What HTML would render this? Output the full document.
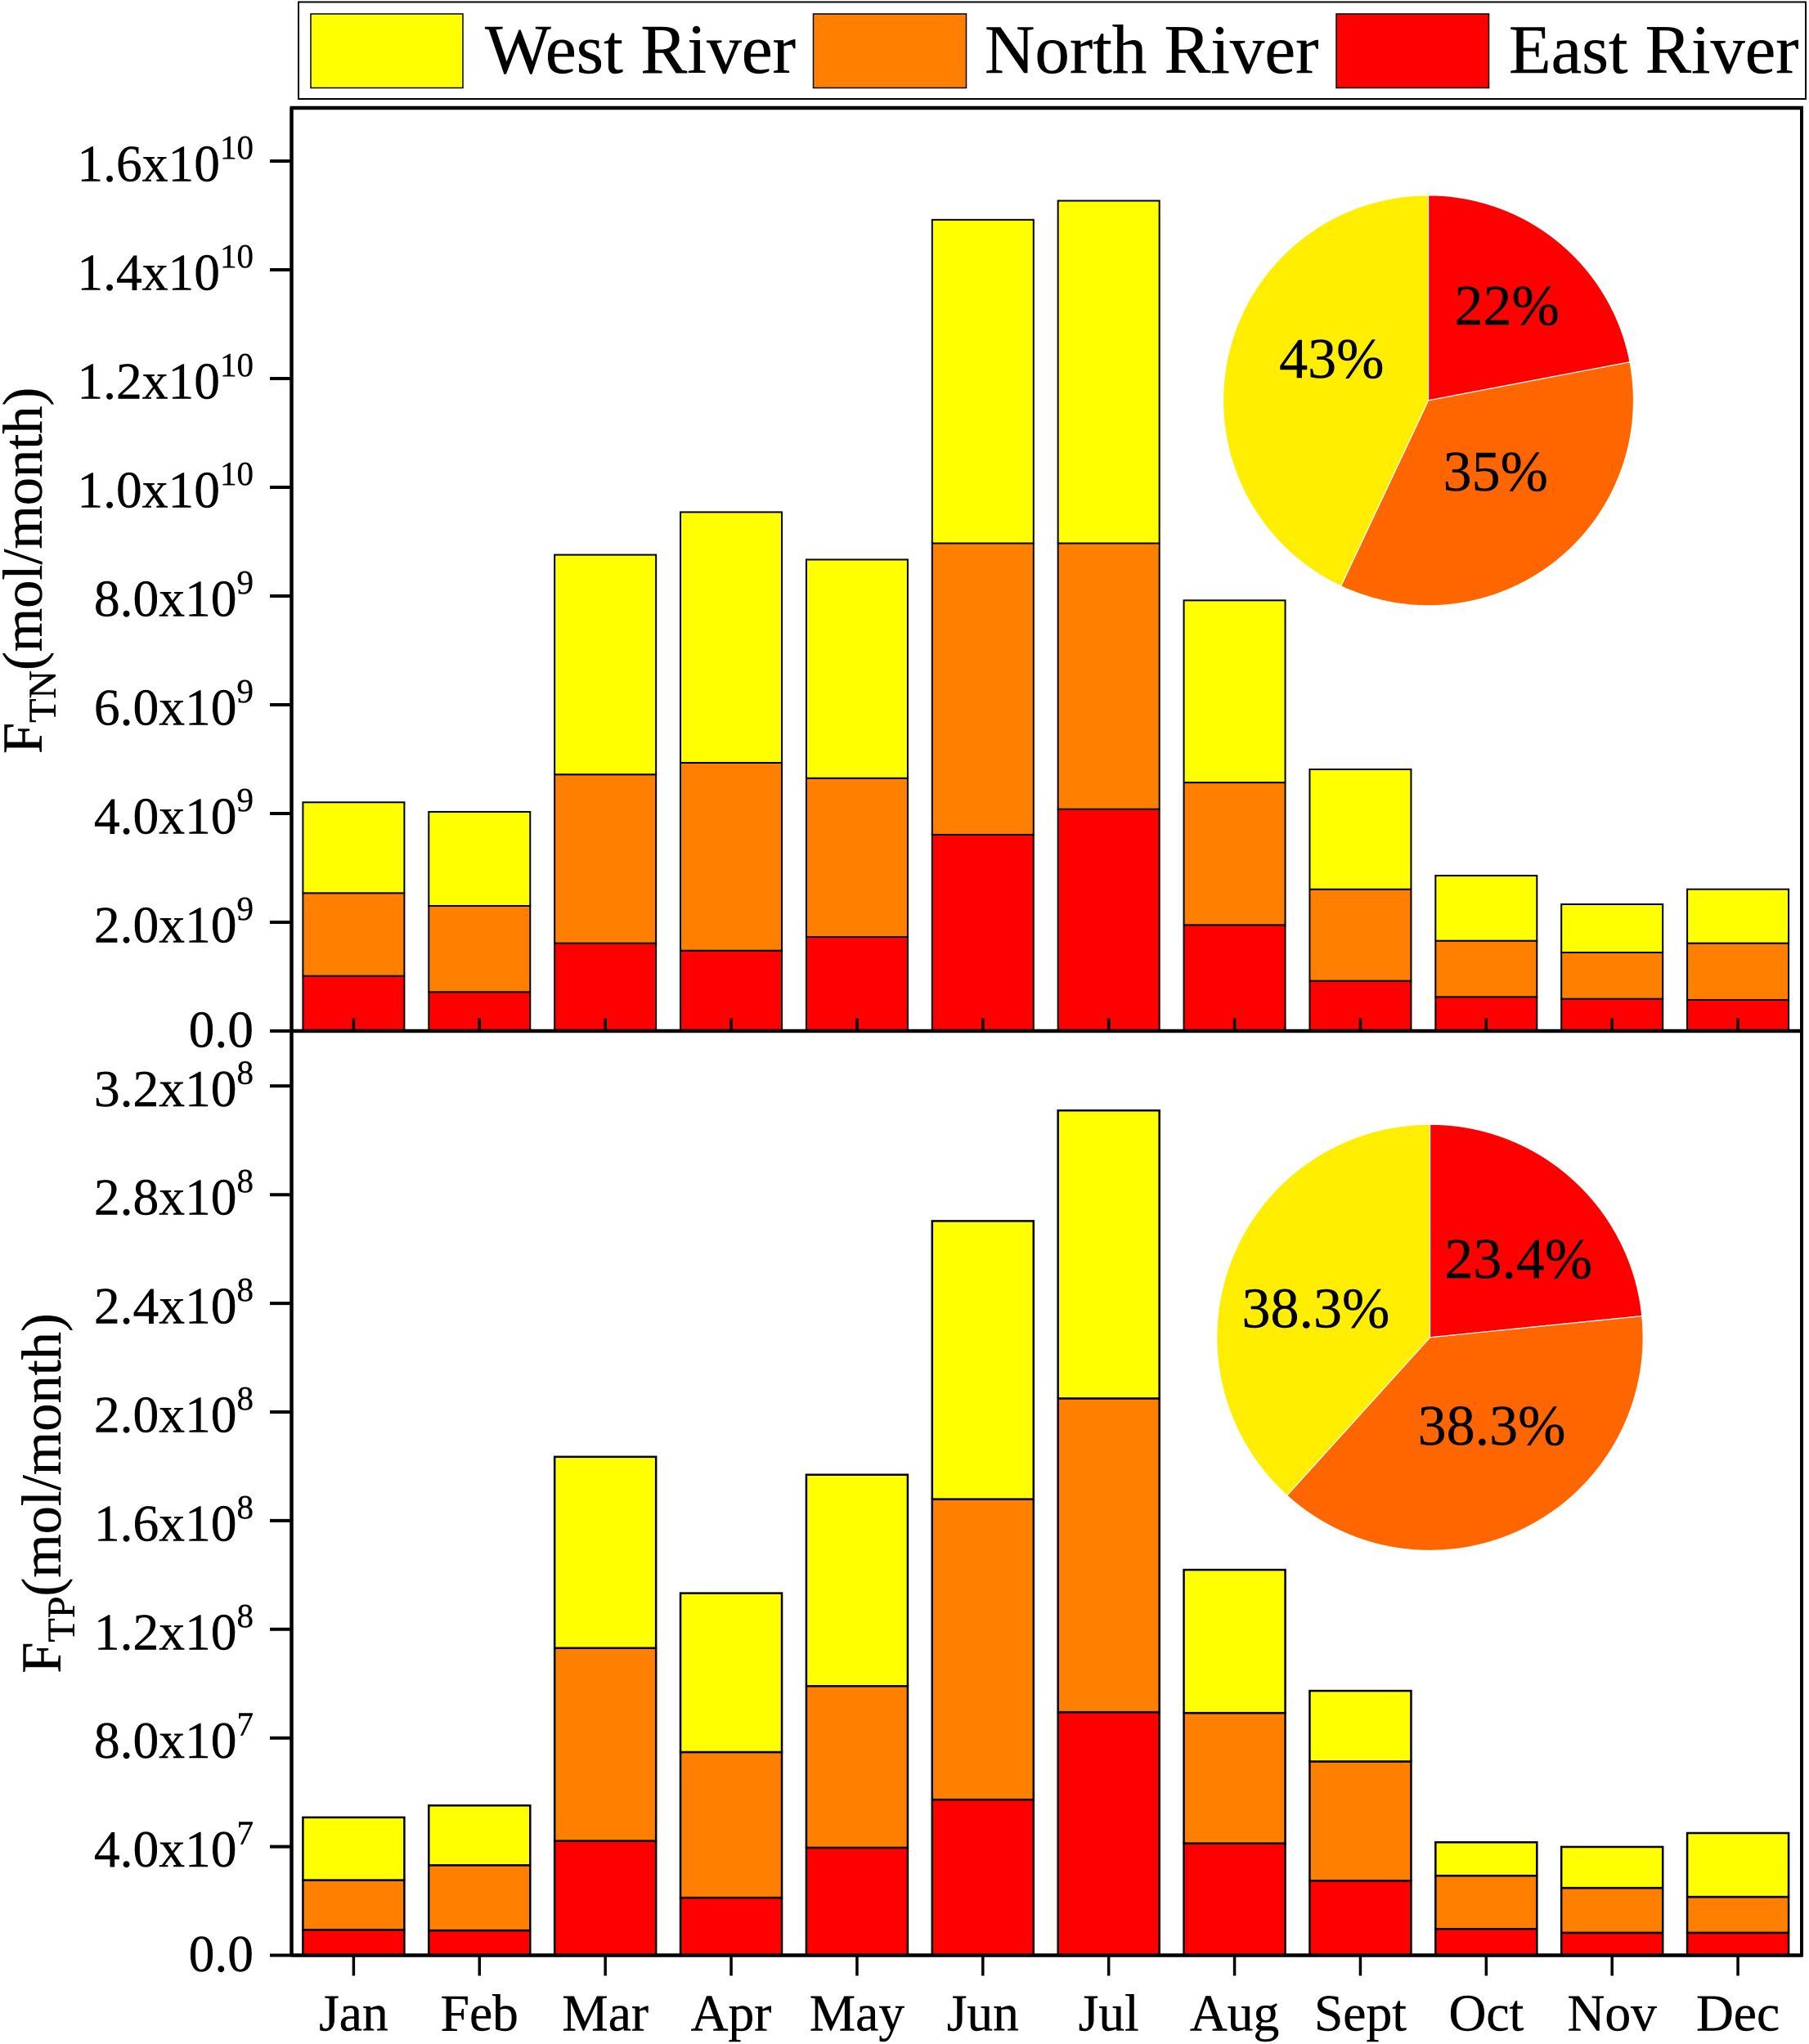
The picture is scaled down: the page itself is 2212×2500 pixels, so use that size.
<!DOCTYPE html>
<html lang="en">
<head>
<meta charset="utf-8">
<title>Monthly TN and TP fluxes by river</title>
<style>
html,body{margin:0;padding:0;background:#fff;}
svg{display:block;}
text{font-family:"Liberation Serif",serif;fill:#000;stroke:#000;stroke-width:0.4px;}
</style>
</head>
<body>
<svg id="chart" xmlns="http://www.w3.org/2000/svg" width="2212" height="2500" viewBox="0 0 2212 2500">
  <rect x="0" y="0" width="2212" height="2500" fill="#ffffff"/>
  <g>
    <rect x="365" y="2.5" width="1843" height="118.5" fill="#fff" stroke="#000" stroke-width="2"/>
    <rect x="380" y="17" width="186" height="90.5" fill="#ffff00" stroke="#000" stroke-width="1.5"/>
    <text x="593" y="89" font-size="85.5">West River</text>
    <rect x="994.5" y="17" width="187" height="90.5" fill="#ff8000" stroke="#000" stroke-width="1.5"/>
    <text x="1204" y="89" font-size="85">North River</text>
    <rect x="1634" y="17" width="186.5" height="90.5" fill="#ff0000" stroke="#000" stroke-width="1.5"/>
    <text x="1845" y="89" font-size="84.5">East River</text>
  </g>
  <g id="bars"></g>
  <g id="pies"></g>
  <g id="axes"></g>
  <text transform="translate(51 922) rotate(-90)" font-size="68.5">F<tspan font-size="48" dy="17">TN</tspan><tspan dy="-17">(mol/month)</tspan></text>
  <text transform="translate(74 2046.6) rotate(-90)" font-size="68.5">F<tspan font-size="48" dy="17">TP</tspan><tspan dy="-17">(mol/month)</tspan></text>
</svg>
<script>
// ---------- data ----------
const months = ['Jan','Feb','Mar','Apr','May','Jun','Jul','Aug','Sept','Oct','Nov','Dec'];

const tnEast  = [1.012e9,0.717e9,1.614e9,1.478e9,1.73e9,3.61e9,4.08e9,1.95e9,0.922e9,0.627e9,0.591e9,0.572e9];
const tnNorth = [1.525e9,1.584e9,3.104e9,3.455e9,2.92e9,5.36e9,4.89e9,2.62e9,1.684e9,1.032e9,0.853e9,1.042e9];
const tnWest  = [1.669e9,1.73e9,4.04e9,4.61e9,4.02e9,5.95e9,6.30e9,3.35e9,2.206e9,1.199e9,0.887e9,0.993e9];

const tpEast  = [0.936e7,0.915e7,4.21e7,2.12e7,3.96e7,5.73e7,8.95e7,4.12e7,2.745e7,0.97e7,0.83e7,0.83e7];
const tpNorth = [1.83e7,2.40e7,7.10e7,5.36e7,5.95e7,11.06e7,11.55e7,4.80e7,4.39e7,1.96e7,1.65e7,1.32e7];
const tpWest  = [2.31e7,2.20e7,7.04e7,5.85e7,7.78e7,10.24e7,10.60e7,5.27e7,2.60e7,1.23e7,1.51e7,2.35e7];

const tnTickValues = [0,2e9,4e9,6e9,8e9,1e10,1.2e10,1.4e10,1.6e10];
const tnTickMantissas = ['0.0','2.0','4.0','6.0','8.0','1.0','1.2','1.4','1.6'];
const tnTickExponents = ['','9','9','9','9','10','10','10','10'];

const tpTickValues = [0,4e7,8e7,1.2e8,1.6e8,2e8,2.4e8,2.8e8,3.2e8];
const tpTickMantissas = ['0.0','4.0','8.0','1.2','1.6','2.0','2.4','2.8','3.2'];
const tpTickExponents = ['','7','7','8','8','8','8','8','8'];

const tnPieValues = [22,35,43];
const tnPieLabels = ['22%','35%','43%'];
const tpPieValues = [23.4,38.3,38.3];
const tpPieLabels = ['23.4%','38.3%','38.3%'];

// ---------- layout ----------
const NS = 'http://www.w3.org/2000/svg';
const barLayer = document.getElementById('bars');
const pieLayer = document.getElementById('pies');
const axisLayer = document.getElementById('axes');
const seriesNames = ['east','north','west'];
const barColors = ['#ff0000','#ff8000','#ffff00'];
const pieColors = ['#ff0000','#ff6600','#ffee00'];
const xAxisLeft = 356.5, xAxisRight = 2203, yTop = 132;
const barWidth = 124;

function xScale(i){ return 432.4 + 153.88 * i; }
function tnY(v){ return 1261 - v / 2e9 * 133; }
function tpY(v){ return 2391.5 - v / 4e7 * 132.9; }

function make(tag, attrs, parent){
  const el = document.createElementNS(NS, tag);
  for (const k in attrs) el.setAttribute(k, attrs[k]);
  parent.appendChild(el);
  return el;
}

function drawStack(panel, series, yScale, strokeWidth){
  months.forEach((m, i) => {
    let cumulative = 0;
    series.forEach((values, s) => {
      const y0 = yScale(cumulative);
      cumulative += values[i];
      const y1 = yScale(cumulative);
      const bar = make('rect', {
        x: xScale(i) - barWidth / 2, y: y1,
        width: barWidth, height: y0 - y1,
        fill: barColors[s], stroke: '#000', 'stroke-width': strokeWidth
      }, barLayer);
      
      
    });
  });
}

function drawYTicks(panel, values, mantissas, exponents, yScale){
  values.forEach((v, i) => {
    const y = yScale(v);
    const tick = make('line', {x1: 330, x2: xAxisLeft, y1: y, y2: y, stroke: '#000', 'stroke-width': 4}, axisLayer);
    
    

    const hasExp = exponents[i] !== '';
    const label = make('text', {x: 310, y: y + (hasExp ? 24.5 : 19.5), 'font-size': 63.5, 'text-anchor': 'end'}, axisLayer);
    
    
    label.appendChild(document.createTextNode(mantissas[i] + (hasExp ? 'x10' : '')));
    if (hasExp){
      const sup = make('tspan', {'font-size': 41, dy: -27.5}, label);
      sup.textContent = exponents[i];
    }
  });
}

function drawPie(panel, values, labels, cx, cy, r, nudgeX, nudgeY, fontSize){
  const total = values.reduce((a, b) => a + b, 0);
  let start = 0;
  values.forEach((v, i) => {
    const sweep = v / total * 2 * Math.PI;
    const end = start + sweep;
    const sx = cx + r * Math.sin(start), sy = cy - r * Math.cos(start);
    const ex = cx + r * Math.sin(end), ey = cy - r * Math.cos(end);
    const large = sweep > Math.PI ? 1 : 0;
    const slice = make('path', {
      d: 'M' + cx + ' ' + cy + ' L' + sx + ' ' + sy + ' A' + r + ' ' + r + ' 0 ' + large + ' 1 ' + ex + ' ' + ey + ' Z',
      fill: pieColors[i], stroke: '#ffffff', 'stroke-width': 1.2
    }, pieLayer);
    
    

    const mid = start + sweep / 2;
    const label = make('text', {
      x: cx + 0.5 * r * Math.sin(mid) + nudgeX[i],
      y: cy - 0.5 * r * Math.cos(mid) + nudgeY[i],
      'font-size': fontSize, 'text-anchor': 'middle'
    }, pieLayer);
    
    
    label.textContent = labels[i];
    start = end;
  });
}

// ---------- marks ----------
drawStack('tn', [tnEast, tnNorth, tnWest], tnY, 2);
drawStack('tp', [tpEast, tpNorth, tpWest], tpY, 2.5);

drawPie('tn', tnPieValues, tnPieLabels, 1746.5, 489.8, 251, [16.2,5.3,4.2], [3.9,11,-0.6], 70);
drawPie('tp', tpPieValues, tpPieLabels, 1748.5, 1635.8, 260.7, [20.9,16.7,-17.9], [24,15,34.4], 70);

// ---------- frames ----------
const frameTop = make('line', {x1: xAxisLeft - 2, x2: xAxisRight + 2, y1: yTop, y2: yTop, stroke: '#000', 'stroke-width': 4.5}, axisLayer);



const frameLeft = make('line', {x1: xAxisLeft, x2: xAxisLeft, y1: yTop, y2: 2393.5, stroke: '#000', 'stroke-width': 4.5}, axisLayer);



const frameRight = make('line', {x1: xAxisRight, x2: xAxisRight, y1: yTop, y2: 2393.5, stroke: '#000', 'stroke-width': 4}, axisLayer);



const axisTn = make('line', {x1: xAxisLeft, x2: xAxisRight, y1: tnY(0), y2: tnY(0), stroke: '#000', 'stroke-width': 4.5}, axisLayer);



const axisTp = make('line', {x1: xAxisLeft, x2: xAxisRight, y1: tpY(0), y2: tpY(0), stroke: '#000', 'stroke-width': 4.5}, axisLayer);



drawYTicks('tn', tnTickValues, tnTickMantissas, tnTickExponents, tnY);
drawYTicks('tp', tpTickValues, tpTickMantissas, tpTickExponents, tpY);

months.forEach((m, i) => {
  const x = xScale(i);
  const upper = make('line', {x1: x, x2: x, y1: tnY(0) - 15.5, y2: tnY(0), stroke: '#000', 'stroke-width': 3.5}, axisLayer);
  
  

  const lower = make('line', {x1: x, x2: x, y1: tpY(0), y2: tpY(0) + 25, stroke: '#000', 'stroke-width': 3.5}, axisLayer);
  
  

  const label = make('text', {x: x, y: 2483.3, 'font-size': 63.5, 'text-anchor': 'middle'}, axisLayer);
  
  
  label.textContent = m;
});
</script>
</body>
</html>
